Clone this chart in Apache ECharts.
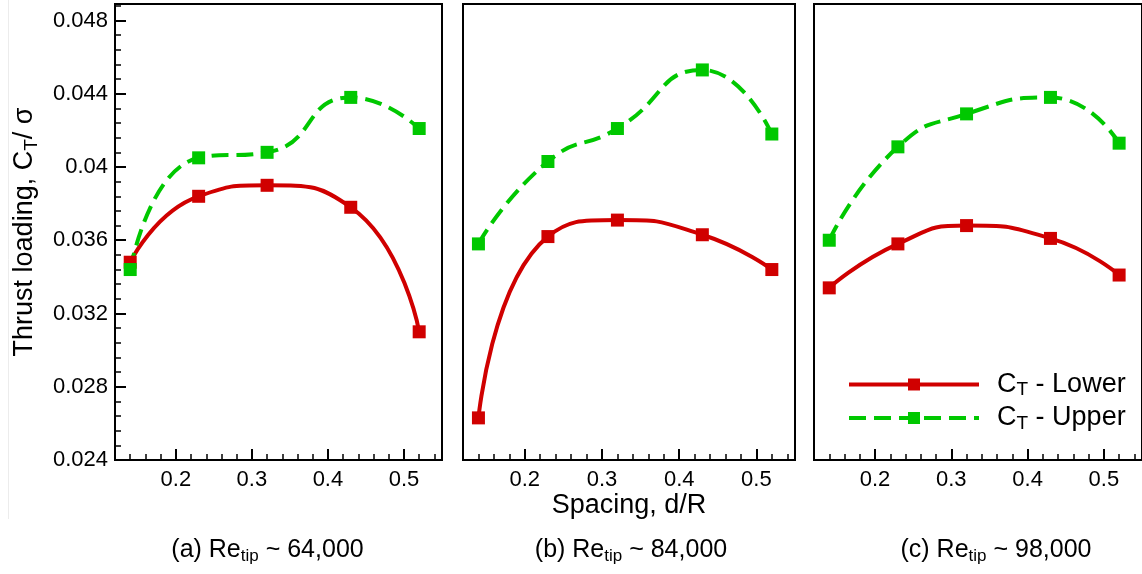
<!DOCTYPE html>
<html>
<head>
<meta charset="utf-8">
<script src="https://cdn.jsdelivr.net/npm/echarts@6/dist/echarts.min.js"></script>
<style>
  html, body { margin: 0; padding: 0; background: #fff; }
  #chart { width: 1142px; height: 574px; }
</style>
</head>
<body>
<div id="chart"></div>
<script>
// Rotor spacing (d/R) at which thrust loading was measured
const spacing = [0.14, 0.23, 0.32, 0.43, 0.52];

// Thrust loading C_T/sigma, lower and upper rotor, for each tip Reynolds number
const lowerA = [0.0348, 0.0384, 0.0390, 0.0378, 0.0310];
const upperA = [0.0344, 0.0405, 0.0408, 0.0438, 0.0421];
const lowerB = [0.0263, 0.0362, 0.0371, 0.0363, 0.0344];
const upperB = [0.0358, 0.0403, 0.0421, 0.0453, 0.0418];
const lowerC = [0.0334, 0.0358, 0.0368, 0.0361, 0.0341];
const upperC = [0.0360, 0.0411, 0.0429, 0.0438, 0.0413];

// Panel captions
const panelTags = ['(a)', '(b)', '(c)'];
const reTipValues = ['64,000', '84,000', '98,000'];

// Axis tick labels
const xTicks = [0.2, 0.3, 0.4, 0.5];
const yTicks = [0.024, 0.028, 0.032, 0.036, 0.04, 0.044, 0.048];

const seriesNames = ['CT - Lower', 'CT - Upper'];

const FONT = 'Liberation Sans, Arial, Helvetica, sans-serif';
const RED = '#d00000';
const GREEN = '#00c800';

const X_MIN = 0.12, X_MAX = 0.55;
const Y_MIN = 0.024, Y_MAX = 0.0489;

const panels = [
  { left: 115, width: 327, lower: lowerA, upper: upperA, caption: 267.5 },
  { left: 463, width: 332, lower: lowerB, upper: upperB, caption: 631 },
  { left: 814, width: 331, lower: lowerC, upper: upperC, caption: 996 }
];

function richSet(main, sub, subLH, lh) {
  return {
    m: { fontFamily: FONT, fontSize: main, lineHeight: lh, color: '#000' },
    s: { fontFamily: FONT, fontSize: sub, lineHeight: subLH, verticalAlign: 'bottom', color: '#000' }
  };
}

const grid = [], xAxis = [], yAxis = [], series = [], graphic = [];

panels.forEach((p, i) => {
  grid.push({
    left: p.left, top: 4, width: p.width, height: 456,
    show: true, borderColor: '#000', borderWidth: 2, backgroundColor: 'transparent'
  });

  // major x axis: long ticks + labels
  xAxis.push({
    gridIndex: i, type: 'value', min: X_MIN, max: X_MAX, position: 'bottom',
    axisLine: { show: true, onZero: false, lineStyle: { color: '#000', width: 2 } },
    axisTick: { show: true, inside: true, length: 11, customValues: xTicks,
                lineStyle: { color: '#000', width: 2 } },
    axisLabel: { show: true, customValues: xTicks, margin: 9, fontSize: 22,
                 fontFamily: FONT, color: '#000' },
    splitLine: { show: false },
    name: i === 1 ? 'Spacing, d/R' : '',
    nameLocation: 'middle', nameGap: 32, nameMoveOverlap: false,
    nameTextStyle: { fontSize: 27, fontFamily: FONT, color: '#000' }
  });
  // minor x axis: short ticks every 0.02
  xAxis.push({
    gridIndex: i, type: 'value', min: X_MIN, max: X_MAX, interval: 0.02, position: 'bottom',
    axisLine: { show: false, onZero: false },
    axisTick: { show: true, inside: true, length: 6, lineStyle: { color: '#000', width: 1.5 } },
    axisLabel: { show: false },
    splitLine: { show: false }
  });

  // major y axis (labelled only on the first panel)
  yAxis.push({
    gridIndex: i, type: 'value', min: Y_MIN, max: Y_MAX, position: 'left',
    axisLine: { show: true, onZero: false, lineStyle: { color: '#000', width: 2 } },
    axisTick: { show: i === 0, inside: true, length: 11, customValues: yTicks,
                lineStyle: { color: '#000', width: 2 } },
    axisLabel: { show: i === 0, customValues: yTicks, margin: 7, fontSize: 22,
                 fontFamily: FONT, color: '#000' },
    splitLine: { show: false },
    name: i === 0 ? '{m|Thrust loading, C}{s|T}{m|/ σ}' : '',
    nameLocation: 'middle', nameGap: 74, nameRotate: 90,
    nameTextStyle: { fontSize: 27, fontFamily: FONT, color: '#000', rich: richSet(27, 19, 13, 32) }
  });
  // minor y axis
  yAxis.push({
    gridIndex: i, type: 'value', min: Y_MIN, max: Y_MAX, interval: 0.0008, position: 'left',
    show: i === 0,
    axisLine: { show: false, onZero: false },
    axisTick: { show: true, inside: true, length: 6, lineStyle: { color: '#000', width: 1.5 } },
    axisLabel: { show: false },
    splitLine: { show: false }
  });

  const common = {
    type: 'line', xAxisIndex: 2 * i, yAxisIndex: 2 * i, smooth: 0.55,
    symbol: 'rect', symbolSize: 13, animation: false, silent: true
  };
  series.push(Object.assign({}, common, {
    name: seriesNames[0],
    data: spacing.map((x, k) => [x, p.lower[k]]),
    itemStyle: { color: RED },
    lineStyle: { color: RED, width: 4, type: 'solid' }
  }));
  series.push(Object.assign({}, common, {
    name: seriesNames[1],
    data: spacing.map((x, k) => [x, p.upper[k]]),
    itemStyle: { color: GREEN },
    lineStyle: { color: GREEN, width: 4, type: [17, 8] }
  }));

  graphic.push({
    type: 'text', x: p.caption, y: 550, silent: true,
    style: {
      text: '{m|' + panelTags[i] + ' Re}{s|tip}{m| ~ ' + reTipValues[i] + '}',
      rich: richSet(25, 17, 12, 30),
      align: 'center', verticalAlign: 'middle'
    }
  });
});

// thin page edge at the far left
graphic.push({
  type: 'line', silent: true,
  shape: { x1: 8.5, y1: 0, x2: 8.5, y2: 519 },
  style: { stroke: '#ececec', lineWidth: 1 }
});

const option = {
  animation: false,
  backgroundColor: '#fff',
  textStyle: { fontFamily: FONT, color: '#000' },
  grid, xAxis, yAxis, series, graphic,
  legend: {
    orient: 'vertical', left: 842, top: 366, itemGap: 5,
    itemWidth: 130, itemHeight: 15, selectedMode: false,
    data: seriesNames,
    lineStyle: { width: 4 },
    formatter: name => name.replace(/^CT(.*)$/, '{m|C}{s|T}{m|$1}'),
    textStyle: { padding: [0, 0, 0, 13], rich: richSet(27, 19, 13, 30) }
  }
};

const chart = echarts.init(document.getElementById('chart'), null, { renderer: 'canvas' });
chart.setOption(option);
</script>
</body>
</html>
